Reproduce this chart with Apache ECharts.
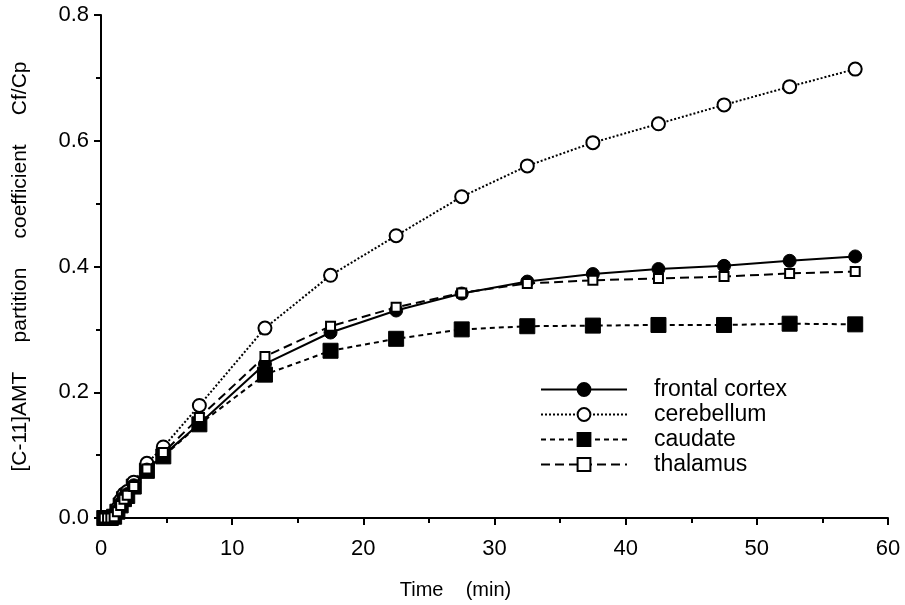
<!DOCTYPE html>
<html>
<head>
<meta charset="utf-8">
<script src="https://cdn.jsdelivr.net/npm/echarts@6/dist/echarts.min.js"></script>
<style>
  html, body { margin: 0; padding: 0; background: #fff; }
  #chart { width: 905px; height: 605px; }
</style>
</head>
<body>
<div id="chart"></div>
<script>
const times = [0.25, 0.5, 0.75, 1.0, 1.25, 1.5, 1.75, 2.0, 2.5, 3.5, 4.75, 7.5, 12.5, 17.5, 22.5, 27.5, 32.5, 37.5, 42.5, 47.5, 52.5, 57.5];
const frontalCortex = [0, 0, 0, 0.003, 0.012, 0.024, 0.033, 0.038, 0.052, 0.077, 0.100, 0.150, 0.245, 0.295, 0.330, 0.357, 0.376, 0.388, 0.396, 0.401, 0.409, 0.416];
const cerebellum = [0, 0, 0, 0.005, 0.015, 0.028, 0.038, 0.042, 0.057, 0.087, 0.113, 0.179, 0.302, 0.386, 0.449, 0.511, 0.560, 0.597, 0.627, 0.657, 0.686, 0.714];
const caudate = [0, 0, 0, 0.002, 0.010, 0.020, 0.030, 0.035, 0.050, 0.075, 0.098, 0.149, 0.228, 0.266, 0.285, 0.300, 0.305, 0.306, 0.307, 0.307, 0.309, 0.308];
const thalamus = [0, 0, 0, 0.002, 0.010, 0.020, 0.030, 0.036, 0.050, 0.078, 0.104, 0.160, 0.257, 0.305, 0.335, 0.358, 0.373, 0.378, 0.381, 0.384, 0.389, 0.392];

const font = '"Liberation Sans", Arial, sans-serif';

const pairs = (vals) => times.map((t, i) => [t, vals[i]]);

const getOption = () => {
    return {
        animation: false,
        backgroundColor: '#fff',
        grid: { left: 101, right: 17, top: 15, bottom: 87, outerBoundsMode: 'none' },
        legend: {
            orient: 'vertical',
            left: 535,
            top: 373,
            itemWidth: 86,
            itemHeight: 16,
            itemGap: 2,
            textStyle: { fontFamily: font, fontSize: 23, lineHeight: 23, color: '#000', padding: [0, 0, 0, 22] },
            data: ['frontal cortex', 'cerebellum', 'caudate', 'thalamus']
        },
        xAxis: {
            type: 'value',
            min: 0,
            max: 60,
            interval: 10,
            name: 'Time    (min)',
            nameLocation: 'middle',
            nameGap: 62,
            nameTextStyle: { fontFamily: font, fontSize: 20, color: '#000', padding: [0, 78, 0, 0] },
            axisLine: { onZero: false, lineStyle: { color: '#000', width: 2 } },
            axisTick: { length: 7, lineStyle: { color: '#000', width: 2 } },
            minorTick: { show: true, splitNumber: 2, length: 5, lineStyle: { color: '#000', width: 2 } },
            axisLabel: { fontFamily: font, fontSize: 22, color: '#000', margin: 20 },
            splitLine: { show: false }
        },
        yAxis: {
            type: 'value',
            min: 0,
            max: 0.8,
            interval: 0.2,
            name: '[C-11]AMT     partition     coefficient     Cf/Cp',
            nameLocation: 'middle',
            nameGap: 70,
            nameTextStyle: { fontFamily: font, fontSize: 21, color: '#000' },
            axisLine: { lineStyle: { color: '#000', width: 2 } },
            axisTick: { length: 7, lineStyle: { color: '#000', width: 2 } },
            minorTick: { show: true, splitNumber: 2, length: 5, lineStyle: { color: '#000', width: 2 } },
            axisLabel: { fontFamily: font, fontSize: 22, color: '#000', margin: 12, formatter: (v) => v.toFixed(1) },
            splitLine: { show: false }
        },
        series: [
            {
                name: 'frontal cortex',
                type: 'line',
                data: pairs(frontalCortex),
                symbol: 'circle',
                symbolSize: 13,
                itemStyle: { color: '#000', borderColor: '#000', borderWidth: 1 },
                lineStyle: { color: '#000', width: 2, type: 'solid' },
                z: 4
            },
            {
                name: 'cerebellum',
                type: 'line',
                data: pairs(cerebellum),
                symbol: 'circle',
                symbolSize: 13,
                itemStyle: { color: '#fff', borderColor: '#000', borderWidth: 2 },
                lineStyle: { color: '#000', width: 2, type: [2, 2] },
                z: 3
            },
            {
                name: 'caudate',
                type: 'line',
                data: pairs(caudate),
                symbol: 'rect',
                symbolSize: 15,
                itemStyle: { color: '#000', borderColor: '#000', borderWidth: 1 },
                lineStyle: { color: '#000', width: 2, type: [5, 4] },
                z: 2
            },
            {
                name: 'thalamus',
                type: 'line',
                data: pairs(thalamus),
                symbol: 'rect',
                symbolSize: 9,
                itemStyle: { color: '#fff', borderColor: '#000', borderWidth: 2 },
                lineStyle: { color: '#000', width: 2, type: [9, 5] },
                z: 5
            }
        ]
    };
};

const initChart = () => {
    const chart = echarts.init(document.getElementById('chart'));
    chart.setOption(getOption());
};

window.addEventListener('load', () => {
    initChart();
});
</script>
</body>
</html>
